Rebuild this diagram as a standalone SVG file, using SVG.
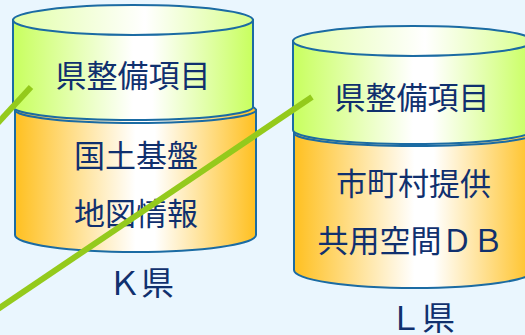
<svg xmlns="http://www.w3.org/2000/svg" width="525" height="335" viewBox="0 0 525 335">
  <defs>
    <linearGradient id="gGreen" x1="0" y1="0" x2="1" y2="0">
      <stop offset="0" stop-color="#C8FF5E"/>
      <stop offset="0.5" stop-color="#FFFFFF"/>
      <stop offset="0.58" stop-color="#FFFFFF"/>
      <stop offset="1" stop-color="#C8FF5E"/>
    </linearGradient>
    <linearGradient id="gGreenTop" x1="0" y1="0" x2="1" y2="0">
      <stop offset="0" stop-color="#E2FFA8"/>
      <stop offset="0.55" stop-color="#FFFFFF"/>
      <stop offset="1" stop-color="#D8FF8C"/>
    </linearGradient>
    <linearGradient id="gOrange" x1="0" y1="0" x2="1" y2="0">
      <stop offset="0" stop-color="#FFC020"/>
      <stop offset="0.5" stop-color="#FFFFFF"/>
      <stop offset="0.58" stop-color="#FFFFFF"/>
      <stop offset="1" stop-color="#FFC020"/>
    </linearGradient>
    <style>
      .edge { stroke: #1B6BA3; stroke-width: 2; }
      .green { fill: url(#gGreen); }
      .greenTop { fill: url(#gGreenTop); }
      .orange { fill: url(#gOrange); }
      .lbl { font-family: "Noto Sans CJK JP", "Noto Sans", sans-serif; font-size: 31px; fill: #10306E; text-anchor: middle; dominant-baseline: central; }
      .big { font-size: 33px; }
      .conn { stroke: #94CA1C; stroke-width: 6; fill: none; stroke-linecap: butt; }
    </style>
  </defs>
  <rect x="0" y="0" width="525" height="335" fill="#EAF6FE"/>

  <g id="cylinder-K">
    <path class="orange edge" d="M15,110 L15,235 A120.5,17 0 0 0 256,235 L256,110 Z"/>
    <ellipse class="orange edge" cx="135.5" cy="110" rx="120.5" ry="13"/>
    <path class="green edge" d="M13,20 L13,107 A120,13 0 0 0 253,107 L253,20 Z"/>
    <ellipse class="greenTop edge" cx="133" cy="20" rx="120" ry="15"/>
    <text class="lbl" x="133" y="73.5">県整備項目</text>
    <text class="lbl" x="136" y="153.5">国土基盤</text>
    <text class="lbl" x="136" y="211.5">地図情報</text>
    <text class="lbl big" x="141" y="281">Ｋ県</text>
  </g>

  <g id="cylinder-L">
    <path class="orange edge" d="M294,133 L294,270 A120.5,18 0 0 0 535,270 L535,133 Z"/>
    <ellipse class="orange edge" cx="414.5" cy="133" rx="120.5" ry="13"/>
    <path class="green edge" d="M293,41 L293,130 A120,14 0 0 0 533,130 L533,41 Z"/>
    <ellipse class="greenTop edge" cx="413" cy="41" rx="120" ry="15"/>
    <text class="lbl" x="412" y="95">県整備項目</text>
    <text class="lbl" x="413.5" y="181.5">市町村提供</text>
    <text class="lbl" x="410.5" y="238.5">共用空間ＤＢ</text>
    <text class="lbl big" x="422" y="316">Ｌ県</text>
  </g>

  <g id="connectors">
    <line class="conn" x1="-5" y1="126" x2="31" y2="87"/>
    <line class="conn" x1="-5" y1="311" x2="312" y2="97"/>
  </g>
</svg>
